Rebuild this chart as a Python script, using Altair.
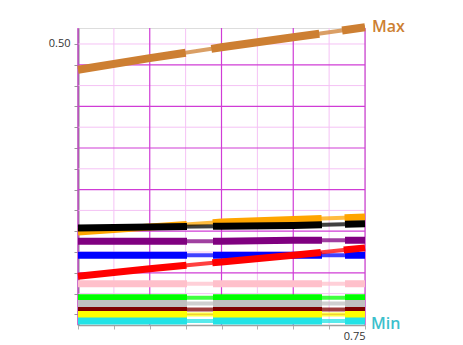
import altair as alt
import pandas as pd

# ---- data ----
x_points = [0.35, 0.45, 0.55, 0.65, 0.75]

series_names = ["Max", "Orange", "Black", "Purple", "Blue", "Red",
                "Pink", "Green", "Maroon", "Gray", "Yellow", "Min"]
series_colors = ["#CD7F32", "#FFA500", "#000000", "#800080", "#0000FF", "#FF0000",
                 "#FFC0CB", "#00FF00", "#800000", "#C0C0C0", "#FFFF00", "#22E3E6"]

max_vals = [0.469, 0.483, 0.496, 0.508, 0.520]
orange_vals = [0.274, 0.280, 0.286, 0.289, 0.292]
black_vals = [0.279, 0.280, 0.281, 0.282, 0.284]
purple_vals = [0.263, 0.263, 0.263, 0.264, 0.264]
blue_vals = [0.246, 0.246, 0.246, 0.246, 0.246]
red_vals = [0.221, 0.230, 0.238, 0.246, 0.255]
pink_vals = [0.212, 0.212, 0.212, 0.212, 0.212]
green_vals = [0.195, 0.195, 0.195, 0.195, 0.195]
maroon_vals = [0.181, 0.181, 0.181, 0.181, 0.181]
gray_vals = [0.188, 0.188, 0.188, 0.188, 0.188]
yellow_vals = [0.175, 0.175, 0.175, 0.175, 0.175]
min_vals = [0.167, 0.167, 0.167, 0.167, 0.167]

all_vals = [max_vals, orange_vals, black_vals, purple_vals, blue_vals, red_vals,
            pink_vals, green_vals, maroon_vals, gray_vals, yellow_vals, min_vals]

x_grid_major = [0.35, 0.45, 0.55, 0.65, 0.75]
x_grid_minor = [0.40, 0.50, 0.60, 0.70]
y_grid_major = [0.475, 0.425, 0.375, 0.325, 0.275, 0.225, 0.175]
y_grid_minor = [0.50, 0.45, 0.40, 0.35, 0.30, 0.25, 0.20]
y_ticks = sorted(y_grid_major + y_grid_minor)
x_ticks = sorted(x_grid_major + x_grid_minor)

x_domain = [0.35, 0.75]
y_domain = [0.1623, 0.5192]

# ---- build ----
xs = alt.Scale(domain=x_domain, nice=False, zero=False)
ys = alt.Scale(domain=y_domain, nice=False, zero=False)

x_axis = alt.Axis(values=x_ticks, labelExpr="abs(datum.value - 0.75) < 0.001 ? '0.75' : ''",
                  grid=False, domainColor="#A0A0A0", domainWidth=1.5, tickColor="#B0B0B0",
                  tickSize=4, labelFontSize=11, labelColor="#333333", labelFont="Open Sans",
                  labelOverlap=False, labelPadding=1, title=None)
y_axis = alt.Axis(values=y_ticks, labelExpr="abs(datum.value - 0.5) < 0.001 ? '0.50' : ''",
                  grid=False, domainColor="#888888", domainWidth=2, tickColor="#999999",
                  tickSize=4, labelFontSize=11, labelColor="#333333", labelFont="Open Sans",
                  labelOverlap=False, labelPadding=4, title=None)


def X(field="x"):
    return alt.X(f"{field}:Q", scale=xs, axis=x_axis)


def Y(field="y"):
    return alt.Y(f"{field}:Q", scale=ys, axis=y_axis)


def vrules(vals, color, w):
    return alt.Chart(pd.DataFrame({"x": vals})).mark_rule(color=color, strokeWidth=w).encode(x=X())


def hrules(vals, color, w):
    return alt.Chart(pd.DataFrame({"y": vals})).mark_rule(color=color, strokeWidth=w).encode(y=Y())


layers = [
    vrules(x_grid_minor, "#F5C2F5", 1),
    hrules(y_grid_minor, "#F5C2F5", 1),
    vrules(x_grid_major, "#D03CD6", 1.2),
    hrules(y_grid_major, "#D03CD6", 1.2),
]

dash = [109, 26, 109, 23, 400]
for name, color, vals in zip(series_names, series_colors, all_vals):
    d = pd.DataFrame({"x": x_points, "y": vals, "s": name})
    w = 8 if name == "Max" else 7
    thin = alt.Chart(d).mark_line(color=color, strokeWidth=4, opacity=0.75).encode(
        x=X(), y=Y(), order="x:Q")
    thick = alt.Chart(d).mark_line(color=color, strokeWidth=w, strokeDash=dash).encode(
        x=X(), y=Y(), order="x:Q")
    layers += [thin, thick]

label_df = pd.DataFrame({"x": [x_points[-1]], "y": [max_vals[-1]], "t": ["Max"]})
layers.append(alt.Chart(label_df).mark_text(align="left", baseline="middle", dx=7, dy=0,
                                            fontSize=16, fontWeight=600, font="Open Sans",
                                            color="#CD7F32").encode(
    x=X(), y=Y(), text="t:N"))
label_df2 = pd.DataFrame({"x": [x_points[-1]], "y": [min_vals[-1]], "t": ["Min"]})
layers.append(alt.Chart(label_df2).mark_text(align="left", baseline="middle", dx=6, dy=3,
                                             fontSize=16, fontWeight=600, font="Open Sans",
                                             color="#3CC0CC").encode(
    x=X(), y=Y(), text="t:N"))

chart = alt.layer(*layers).properties(
    width=287, height=297,
    autosize=alt.AutoSizeParams(type="none"),
    padding={"left": 70, "top": 20, "right": 90, "bottom": 18},
).configure_view(stroke=None).configure(background="white")

chart.save("out.html", embed_options={"renderer": "svg", "actions": False})
